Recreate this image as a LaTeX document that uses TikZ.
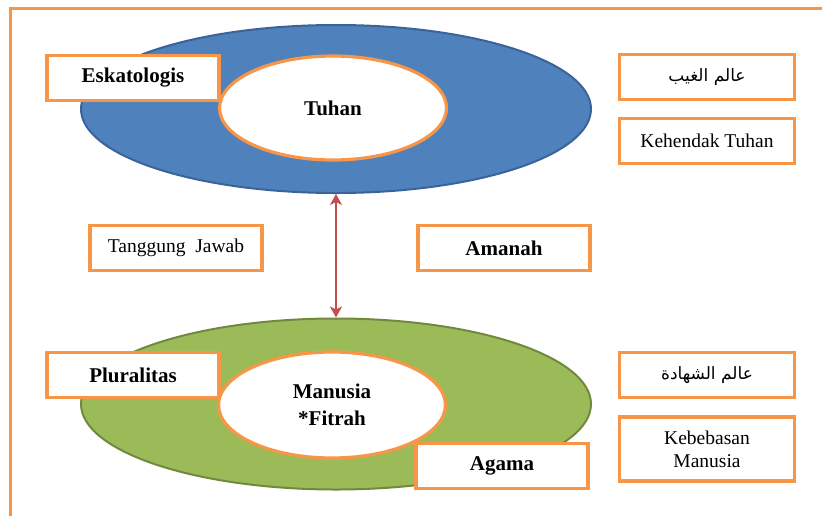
\documentclass[tikz,border=0pt]{standalone}
\usepackage{fontspec}
\setmainfont{Liberation Serif}
\newfontfamily\arabicfont[Script=Arabic]{DejaVu Sans}
\TeXXeTstate=1
\usetikzlibrary{shapes.geometric,arrows.meta}
\definecolor{frameorange}{HTML}{F79646}
\definecolor{skyblue}{HTML}{4F81BD}
\definecolor{skyblueline}{HTML}{3A639A}
\definecolor{earthgreen}{HTML}{9BBB59}
\definecolor{earthgreenline}{HTML}{71893F}
\definecolor{linkred}{HTML}{C0504D}
\tikzset{
  labelbox/.style={draw=frameorange, line width=3.2pt, fill=white, rectangle,
    minimum width=172pt, minimum height=45pt, inner sep=2pt, align=center},
  boldtext/.style={font=\fontsize{21}{27}\selectfont\bfseries},
  plaintext/.style={font=\fontsize{19.5}{23}\selectfont},
  arabictext/.style={font=\fontsize{17}{20}\selectfont\arabicfont},
  world/.style={ellipse, line width=2pt, minimum width=510pt, minimum height=168pt},
  core/.style={ellipse, draw=frameorange, fill=white, line width=3.2pt,
    minimum width=227pt, minimum height=104pt, align=center}
}
\begin{document}
\begin{tikzpicture}[x=1pt,y=-1pt]
\useasboundingbox (0,0) rectangle (822,515);
\draw [frameorange, line width=3pt] (830,8) -- (10,8) -- (10,525);
% upper world
\node [world, draw=skyblueline, fill=skyblue] (tuhanOuter) at (336,109) {};
\node [core, boldtext] (tuhanInner) at (333,108) {Tuhan};
\node [labelbox, boldtext] (eskatologis) at (133,78) {Eskatologis};
% lower world
\node [world, draw=earthgreenline, fill=earthgreen, minimum height=171pt] (manusiaOuter) at (336,404) {};
\node [core, boldtext, minimum height=106pt] (manusiaInner) at (332,405) {Manusia\\*Fitrah};
\node [labelbox, boldtext] (pluralitas) at (133,375) {Pluralitas};
\node [labelbox, boldtext] (agama) at (502,466) {Agama};
% link between the two
\draw [linkred, line width=2.6pt, {Stealth[length=11pt,width=12pt,inset=3pt]}-{Stealth[length=11pt,width=12pt,inset=3pt]}] (tuhanOuter.south) -- (manusiaOuter.north);
\node [labelbox, plaintext] (tanggung) at (176,248) {Tanggung\ \ Jawab};
\node [labelbox, boldtext] (amanah) at (504,248) {Amanah};
% right column
\node [labelbox, arabictext, minimum width=175pt] (ghaib) at (707,77) {\beginR عالم الغيب\endR};
\node [labelbox, plaintext, minimum width=175pt] (kehendak) at (707,141) {Kehendak Tuhan};
\node [labelbox, arabictext, minimum width=175pt] (syahadah) at (707,375) {\beginR عالم الشهادة\endR};
\node [labelbox, plaintext, minimum width=175pt, minimum height=64pt] (kebebasan) at (707,449) {Kebebasan\\Manusia};
\end{tikzpicture}
\end{document}
